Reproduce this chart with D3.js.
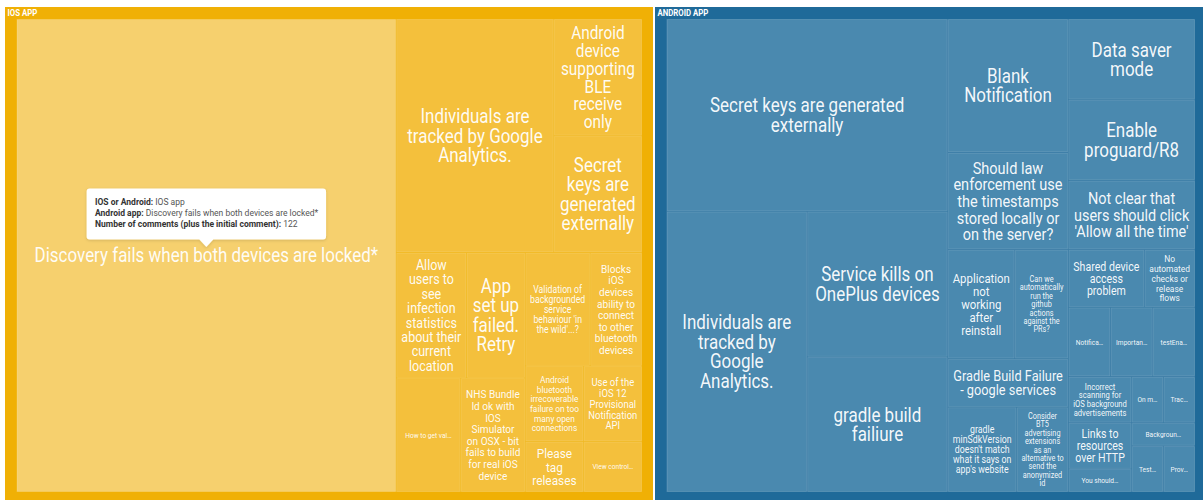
<!DOCTYPE html>
<html><head><meta charset="utf-8">
<script src="https://cdn.jsdelivr.net/npm/d3@7"></script>
<style>
html,body{margin:0;padding:0;background:#fff;overflow:hidden}
svg{display:block}
text{font-family:Roboto,"Noto Sans",sans-serif}
</style></head><body>
<svg id="chart" width="1203" height="500"></svg>
<script>
// ---------- data ----------
const groupNames = ["IOS app", "Android app"];
const groupTitles = ["IOS APP", "ANDROID APP"];

const iosIssues = [
  "Discovery fails when both devices are locked*",
  "Individuals are tracked by Google Analytics.",
  "Android device supporting BLE receive only",
  "Secret keys are generated externally",
  "Allow users to see infection statistics about their current location",
  "App set up failed. Retry",
  "How to get val…",
  "NHS Bundle Id ok with IOS Simulator on OSX - bit fails to build for real iOS device",
  "Validation of backgrounded service behaviour 'in the wild'...?",
  "Blocks iOS devices ability to connect to other bluetooth devices",
  "Android bluetooth irrecoverable failure on too many open connections",
  "Use of the iOS 12 Provisional Notification API",
  "Please tag releases",
  "View control…"
];
const iosComments = [122, 25, 7, 7, 6, 5, 5, 5, 5, 4, 3, 3, 2, 2];

const androidIssues = [
  "Secret keys are generated externally",
  "Individuals are tracked by Google Analytics.",
  "Service kills on OnePlus devices",
  "gradle build failiure",
  "Blank Notification",
  "Should law enforcement use the timestamps stored locally or on the server?",
  "Data saver mode",
  "Enable proguard/R8",
  "Not clear that users should click 'Allow all the time'",
  "Application not working after reinstall",
  "Can we automatically run the github actions against the PRs?",
  "Gradle Build Failure - google services",
  "gradle minSdkVersion doesn't match what it says on app's website",
  "Consider BT5 advertising extensions as an alternative to send the anonymized id",
  "Shared device access problem",
  "No automated checks or release flows",
  "Notifica…",
  "Importan…",
  "testEna…",
  "Incorrect scanning for iOS background advertisements",
  "Links to resources over HTTP",
  "You should…",
  "On m…",
  "Trac…",
  "Backgroun…",
  "Test…",
  "Prov…"
];
const androidComments = [37, 27, 14, 13, 11, 8, 7, 7, 6, 5, 4, 4, 4, 3, 3, 2, 2, 2, 2, 2, 2, 1, 1, 1, 1, 1, 1];

const tooltipFields = ["IOS or Android", "Android app", "Number of comments (plus the initial comment)"];
const hoveredGroup = 0, hoveredIssue = 0;

// ---------- style ----------
const frameColors = ["#F0B005", "#1F6A99"];
const cellColors = ["#F4C03C", "#4A89AF"];
const hoverColors = ["#F6D06E", "#6FA1C1"];
const SX = 0.87;           // horizontal condensing
const MAXF = 19.5, MINF = 7.6, LH = 1.0;

const svg = d3.select("#chart");

const data = {
  name: "root",
  children: [
    {name: groupNames[0], title: groupTitles[0], gi: 0,
     children: iosIssues.map((t, i) => ({name: t, value: iosComments[i], gi: 0, idx: i}))},
    {name: groupNames[1], title: groupTitles[1], gi: 1,
     children: androidIssues.map((t, i) => ({name: t, value: androidComments[i], gi: 1, idx: i}))}
  ]
};

const root = d3.hierarchy(data).sum(d => d.children ? 0 : d.value);

d3.treemap()
  .tile(d3.treemapBinary)
  .size([1201, 493])
  .paddingInner(d => d.depth === 0 ? 2 : 0)
  .paddingTop(d => d.depth === 1 ? 12 : 0)
  .paddingLeft(d => d.depth === 1 ? 11.5 : 0)
  .paddingRight(d => d.depth === 1 ? 11 : 0)
  .paddingBottom(d => d.depth === 1 ? 8 : 0)
  (root);

const g = svg.append("g").attr("transform", "translate(5,7)");

// measuring
const ctx = document.createElement("canvas").getContext("2d");
function tw(str, size, weight) {
  ctx.font = `${weight || 400} ${size}px Roboto`;
  return ctx.measureText(str).width * SX;
}
function wrap(words, s, maxW) {
  const lines = []; let cur = "";
  for (const w of words) {
    const t = cur ? cur + " " + w : w;
    if (!cur || tw(t, s) <= maxW) cur = t;
    else { lines.push(cur); cur = w; }
  }
  if (cur) lines.push(cur);
  return lines;
}
function fitLabel(label, w, h) {
  const pad = 4 + 0.012 * w;
  const aw = w - 2 * pad, ah = h - 2 * pad;
  if (label.endsWith("…")) return {size: MINF, lines: [label]};
  const words = label.split(/\s+/);
  for (let s = MAXF; s >= MINF; s -= 0.1) {
    const lines = wrap(words, s, aw);
    if (lines.every(l => tw(l, s) <= aw) && lines.length * s * LH <= ah) return {size: s, lines};
  }
  return {size: MINF, lines: [label]};
}

// groups
const groups = root.children;
g.selectAll("rect.group").data(groups).join("rect")
  .attr("class", "group")
  .attr("x", d => d.x0).attr("y", d => d.y0)
  .attr("width", d => d.x1 - d.x0).attr("height", d => d.y1 - d.y0)
  .attr("fill", d => frameColors[d.data.gi]);

g.selectAll("text.gtitle").data(groups).join("text")
  .attr("class", "gtitle")
  .attr("transform", d => `translate(${d.x0 + 2.5},${d.y0 + 9}) scale(${SX},1)`)
  .attr("fill", "#fff")
  .attr("font-size", 9)
  .attr("font-weight", 700)
  .text(d => d.data.title);

// leaves
const leaves = root.leaves();
g.selectAll("rect.cell").data(leaves).join("rect")
  .attr("class", "cell")
  .attr("x", d => d.x0 + 0.5).attr("y", d => d.y0 + 0.5)
  .attr("width", d => Math.max(0, d.x1 - d.x0 - 1)).attr("height", d => Math.max(0, d.y1 - d.y0 - 1))
  .attr("fill", d => (d.data.gi === hoveredGroup && d.data.idx === hoveredIssue) ? hoverColors[d.data.gi] : cellColors[d.data.gi])
  .attr("stroke", "rgba(255,255,255,0.16)")
  .attr("stroke-width", 1);

leaves.forEach(d => {
  const w = d.x1 - d.x0, h = d.y1 - d.y0;
  const f = fitLabel(d.data.name, w, h);
  const cx = (d.x0 + d.x1) / 2, cy = (d.y0 + d.y1) / 2;
  const lh = f.size * LH;
  const y0 = cy - (f.lines.length * lh) / 2 + lh / 2 + f.size * 0.355;
  const t = g.append("text")
    .attr("transform", `translate(${cx},${y0}) scale(${SX},1)`)
    .attr("text-anchor", "middle")
    .attr("font-size", f.size)
    .attr("fill", "#fff")
    .attr("fill-opacity", 0.95);
  f.lines.forEach((l, i) => t.append("tspan").attr("x", 0).attr("y", i * lh).text(l));
});

// tooltip
const hov = leaves.find(d => d.data.gi === hoveredGroup && d.data.idx === hoveredIssue);
const tipX = (hov.x0 + hov.x1) / 2 + 5, tipY = (hov.y0 + hov.y1) / 2 + 7 - 8.5;
const tipVals = [hov.parent.data.name, hov.data.name, String(hov.data.value)];
const TF = 9.8;
const lineW = tooltipFields.map((k, i) => tw(k + ":", TF, 700) + tw(" " + tipVals[i], TF, 400));
const bw = d3.max(lineW) + 16, bh = 51;
const bx = tipX - bw / 2, by = tipY - 7.5 - bh;

const defs = svg.append("defs");
const flt = defs.append("filter").attr("id", "sh").attr("x", "-10%").attr("y", "-20%").attr("width", "120%").attr("height", "150%");
flt.append("feDropShadow").attr("dx", 0).attr("dy", 1).attr("stdDeviation", 1.5).attr("flood-color", "#000").attr("flood-opacity", 0.15);

const tip = svg.append("g");
tip.append("path")
  .attr("d", `M${bx + 3},${by} H${bx + bw - 3} Q${bx + bw},${by} ${bx + bw},${by + 3} V${by + bh - 3} Q${bx + bw},${by + bh} ${bx + bw - 3},${by + bh} H${tipX + 7} L${tipX},${tipY} L${tipX - 7},${by + bh} H${bx + 3} Q${bx},${by + bh} ${bx},${by + bh - 3} V${by + 3} Q${bx},${by} ${bx + 3},${by} Z`)
  .attr("fill", "#fff")
  .attr("filter", "url(#sh)");

tooltipFields.forEach((k, i) => {
  const t = tip.append("text")
    .attr("transform", `translate(${bx + 8.4},${by + 16.7 + i * 10.7}) scale(${SX},1)`)
    .attr("font-size", TF)
    .attr("fill", "#333");
  t.append("tspan").attr("font-weight", 700).text(k + ":");
  t.append("tspan").attr("fill", "#555").text(" " + tipVals[i]);
});
</script>
</body></html>
